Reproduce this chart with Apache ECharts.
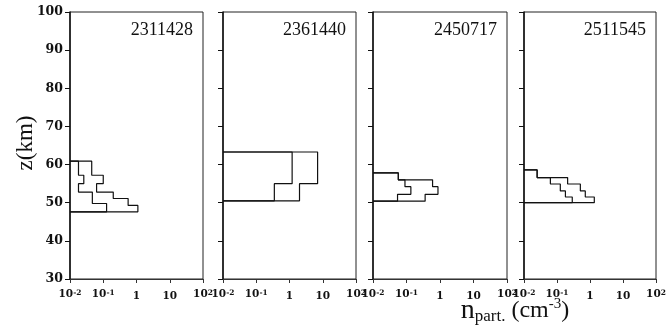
<!DOCTYPE html>
<html><head><meta charset="utf-8">
<script src="https://cdn.jsdelivr.net/npm/echarts@6/dist/echarts.min.js"></script>
<style>html,body{margin:0;padding:0;background:#fff}#c{width:671px;height:328px}</style>
</head><body><div id="c"></div>
<script>
// Vertical particle-density profiles for four events (z in km, n in cm^-3)
const panelIds = ['2311428', '2361440', '2450717', '2511545'];

// x tick labels (log decades) and y range
const xTickExp = [-2, -1, 0, 1, 2];
const xTickText = ['10{s|-2}', '10{s|-1}', '{b|1}', '{b|10}', '10{s|2}'];
const yTicks = [30, 40, 50, 60, 70, 80, 90, 100];

// Event 2311428
const p1OuterEdges = [60.9, 57.2, 55.0, 52.8, 51.1, 49.3, 47.6];
const p1OuterVals  = [0.045, 0.10, 0.063, 0.20, 0.56, 1.1];
const p1InnerEdges = [60.9, 57.2, 55.0, 52.8, 49.8, 47.6];
const p1InnerVals  = [0.018, 0.026, 0.018, 0.047, 0.126];

// Event 2361440
const p2OuterEdges = [63.3, 55.0, 50.5];
const p2OuterVals  = [7.0, 2.0];
const p2InnerEdges = [63.3, 55.0, 50.5];
const p2InnerVals  = [1.2, 0.35];

// Event 2450717
const p3OuterEdges = [57.8, 56.0, 54.2, 52.2, 50.4];
const p3OuterVals  = [0.057, 0.60, 0.87, 0.36];
const p3InnerEdges = [57.8, 56.0, 54.2, 52.2, 50.4];
const p3InnerVals  = [0.057, 0.09, 0.135, 0.054];

// Event 2511545
const p4OuterEdges = [58.6, 56.6, 54.9, 53.1, 51.5, 50.0];
const p4OuterVals  = [0.025, 0.21, 0.51, 0.72, 1.35];
const p4InnerEdges = [58.6, 56.6, 54.9, 53.1, 51.5, 50.0];
const p4InnerVals  = [0.025, 0.063, 0.126, 0.18, 0.29];

const profiles = [
  [[p1OuterEdges, p1OuterVals], [p1InnerEdges, p1InnerVals]],
  [[p2OuterEdges, p2OuterVals], [p2InnerEdges, p2InnerVals]],
  [[p3OuterEdges, p3OuterVals], [p3InnerEdges, p3InnerVals]],
  [[p4OuterEdges, p4OuterVals], [p4InnerEdges, p4InnerVals]]
];

const X_MIN = 0.01, X_MAX = 100;

// closed step outline starting and ending on the left axis
function stepPath(edges, vals) {
  const pts = [[X_MIN, edges[0]]];
  for (let i = 0; i < vals.length; i++) {
    pts.push([vals[i], edges[i]]);
    pts.push([vals[i], edges[i + 1]]);
  }
  pts.push([X_MIN, edges[edges.length - 1]]);
  return pts;
}

const serif = 'Liberation Serif, DejaVu Serif, serif';
const tickFont = 'DejaVu Serif, Liberation Serif, serif';
const panelBox = [
  { left: 70, width: 133 },
  { left: 223, width: 133 },
  { left: 373, width: 134 },
  { left: 524, width: 132 }
];

const grids = [], xAxes = [], yAxes = [], series = [], graphics = [];
panelBox.forEach((b, i) => {
  grids.push({ left: b.left, width: b.width, top: 12, height: 267,
    show: true, borderColor: '#222', borderWidth: 1, backgroundColor: 'transparent' });
  xAxes.push({
    type: 'log', logBase: 10, min: X_MIN, max: X_MAX, gridIndex: i,
    axisLine: { show: true, lineStyle: { color: '#333', width: 1 } },
    axisTick: { show: true, length: 4, lineStyle: { color: '#333' } },
    minorTick: { show: false }, splitLine: { show: false },
    axisLabel: {
      show: true, margin: 10, showMinLabel: true, showMaxLabel: true,
      fontFamily: tickFont, fontWeight: 'bold', fontSize: 10.5, color: '#111',
      formatter: v => {
        const e = Math.round(Math.log10(v));
        const k = xTickExp.indexOf(e);
        return k >= 0 ? xTickText[k] : '';
      },
      rich: {
        b: { fontFamily: tickFont, fontWeight: 'bold', fontSize: 10.5, color: '#111', lineHeight: 14 },
        s: { fontFamily: tickFont, fontWeight: 'bold', fontSize: 7.5, color: '#111', verticalAlign: 'top', lineHeight: 10 }
      }
    }
  });
  yAxes.push({
    type: 'value', min: yTicks[0], max: yTicks[yTicks.length - 1], interval: 10, gridIndex: i,
    axisLine: { show: true, lineStyle: { color: '#111', width: 1.5 } },
    axisTick: { show: true, length: 5, lineStyle: { color: '#111' } },
    splitLine: { show: false },
    axisLabel: { show: i === 0, margin: 7, fontFamily: tickFont, fontWeight: 'bold', fontSize: 12.5, color: '#111' }
  });
  profiles[i].forEach(([edges, vals]) => {
    series.push({
      type: 'line', xAxisIndex: i, yAxisIndex: i, data: stepPath(edges, vals),
      showSymbol: false, symbol: 'none', silent: true, animation: false,
      lineStyle: { color: '#111', width: 1.2 }
    });
  });
  graphics.push({
    type: 'text', x: b.left + b.width - 10, y: 30,
    style: { text: panelIds[i], textAlign: 'right', textVerticalAlign: 'middle',
      font: '18px ' + serif, fill: '#111' }
  });
});

graphics.push({
  type: 'text', x: 26, y: 143, rotation: Math.PI / 2,
  style: { text: 'z(km)', textAlign: 'center', textVerticalAlign: 'middle',
    font: '23px ' + serif, fill: '#111' }
});
graphics.push({
  type: 'text', x: 515, y: 311,
  style: {
    text: '{n|n}{sub|part.}{b| (cm}{sup|-3}{b|)}',
    textAlign: 'center', textVerticalAlign: 'middle',
    rich: {
      n: { fontFamily: serif, fontSize: 28, lineHeight: 28, fill: '#111' },
      sub: { fontFamily: serif, fontSize: 17, lineHeight: 14, verticalAlign: 'bottom', fill: '#111' },
      b: { fontFamily: serif, fontSize: 24, lineHeight: 28, fill: '#111' },
      sup: { fontFamily: serif, fontSize: 15, lineHeight: 14, verticalAlign: 'top', fill: '#111' }
    }
  }
});

const chart = echarts.init(document.getElementById('c'), null, { renderer: 'canvas' });
chart.setOption({
  animation: false,
  backgroundColor: '#fff',
  grid: grids, xAxis: xAxes, yAxis: yAxes, series: series, graphic: graphics
});
</script>
</body></html>
